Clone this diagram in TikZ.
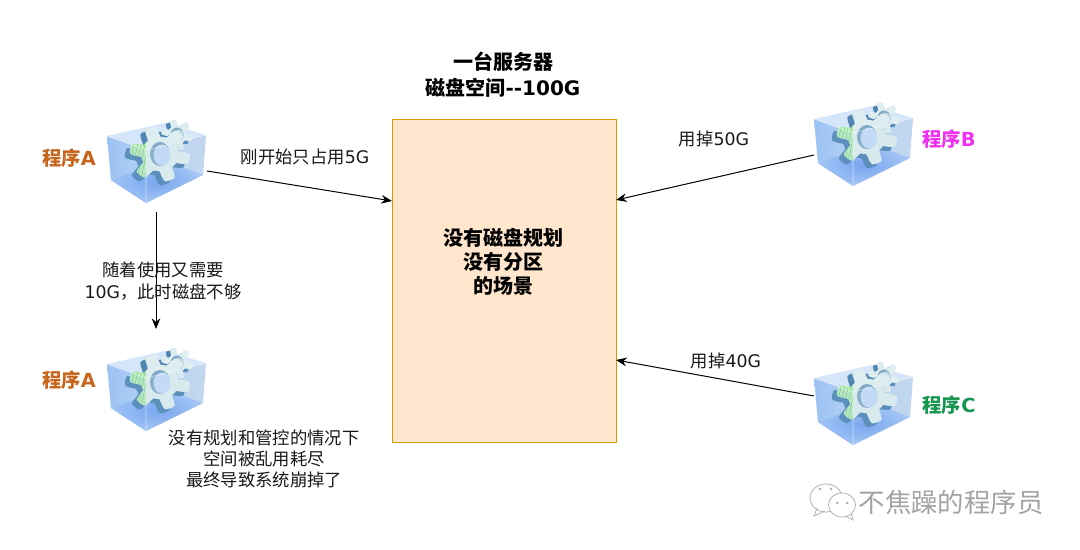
\documentclass[tikz,border=0pt]{standalone}
\usepackage{fontspec}
\setmainfont{Noto Sans CJK SC}
\newfontfamily\la{DejaVu Sans}
\usetikzlibrary{arrows.meta}
\definecolor{progA}{HTML}{C8661E}
\definecolor{progB}{HTML}{F032F0}
\definecolor{progC}{HTML}{14964F}
\definecolor{diskfill}{HTML}{FFE6CC}
\definecolor{diskline}{HTML}{D79B00}
\definecolor{wallL}{HTML}{9CC3F4}
\definecolor{wallLp}{HTML}{B9D4F6}
\definecolor{wallR}{HTML}{C2D7EF}
\definecolor{floorA}{HTML}{6E9FEF}
\definecolor{floorB}{HTML}{A3C5F6}
\definecolor{gearface}{HTML}{DDEDF0}
\definecolor{gearside}{HTML}{4F86B2}
\definecolor{gearhole}{HTML}{7FA9C4}
\definecolor{lattice}{HTML}{BDEFB8}
\definecolor{latline}{HTML}{62C866}
\newcommand{\bigrad}{(24.5+5.8*max(min(2.0*sin(6*\t+25),1),-1))}
\newcommand{\smlrad}{(12.6+3.2*max(min(2.0*sin(6*\t+10),1),-1))}
\tikzset{
  conn/.style={draw=black,line width=0.75pt,-{Stealth[length=8pt,width=6.5pt]}},
  txt/.style={font=\fontsize{13}{16}\selectfont,align=center,inner sep=0pt,text=black!90},
  box/.style={inner sep=0pt,minimum width=73.5pt,minimum height=63pt},
  prog/.style={font=\fontsize{14.5}{18}\selectfont\bfseries,inner sep=0pt},
  pics/cube/.style={code={
    % walls
    \fill[wallLp!60!white] (-40,-15)--(18,-28)--(59,-16)--(-1,-1)--cycle;
    \shade[left color=wallL,right color=wallLp] (-40,-15)--(-1,-1)--(-1,52)--(-36,29)--cycle;
    \shade[left color=wallLp,right color=wallR] (-1,-1)--(59,-16)--(56,24)--(-1,52)--cycle;
    % floor
    \shade[inner color=floorA,outer color=floorB] (-36,29)--(18,10)--(56,24)--(-1,52)--cycle;
    % small gear
    \fill[gearside] plot[smooth cycle,domain=0:356,samples=90,variable=\t]
      ({26+\smlrad*cos(\t)},{-13+\smlrad*sin(\t)});
    \fill[gearface] plot[smooth cycle,domain=0:356,samples=90,variable=\t]
      ({30+\smlrad*cos(\t)},{-16+\smlrad*sin(\t)});
    \fill[gearhole] (30,-16) ellipse (6.5 and 7.5);
    \fill[gearface!75!gearhole] (31.5,-15.5) ellipse (5 and 6);
    % big gear
    \fill[gearside] plot[smooth cycle,domain=0:356,samples=90,variable=\t]
      ({8+\bigrad*cos(\t)},{7+\bigrad*0.92*sin(\t)});
    \fill[gearface] plot[smooth cycle,domain=0:356,samples=90,variable=\t]
      ({13+\bigrad*cos(\t)},{3+\bigrad*0.92*sin(\t)});
    \begin{scope}
      \clip (-45,-40) rectangle (-1,60);
      \fill[lattice] plot[smooth cycle,domain=0:356,samples=90,variable=\t]
        ({13+\bigrad*cos(\t)},{3+\bigrad*0.92*sin(\t)});
      \begin{scope}
        \clip plot[smooth cycle,domain=0:356,samples=90,variable=\t]
          ({13+\bigrad*cos(\t)},{3+\bigrad*0.92*sin(\t)});
        \draw[latline,line width=0.3pt,rotate=-12,step=3.5] (-30,-35) grid (10,45);
      \end{scope}
    \end{scope}
    \fill[gearhole] (13,3) ellipse (10 and 12);
    \fill[wallL!60!white] (15,4) ellipse (8.5 and 10.5);
    % faint front glass
    \fill[wallL,fill opacity=.18] (-40,-15)--(-1,-1)--(-1,52)--(-36,29)--cycle;
    \fill[wallR,fill opacity=.12] (-1,-1)--(59,-16)--(56,24)--(-1,52)--cycle;
    \draw[white,opacity=.6,line width=0.4pt] (-40,-15)--(-1,-1)--(59,-16) (-1,-1)--(-1,52);
  }}
}
\begin{document}
\begin{tikzpicture}[x=0.75pt,y=-0.75pt]
\useasboundingbox (0,0) rectangle (1080,549);
\fill[white] (0,0) rectangle (1080,549);

% disk
\node[draw=diskline,fill=diskfill,line width=0.75pt,inner sep=0pt,minimum width=168pt,minimum height=241.5pt] (disk) at (504,281) {};
\node[align=center,inner sep=0pt,font=\fontsize{15}{18}\selectfont\bfseries] (disktext) at (503,262) {没有磁盘规划\\没有分区\\的场景};
\node[align=center,inner sep=0pt,font=\fontsize{15}{19.5}\selectfont\bfseries] (title) at (503,75) {一台服务器\\磁盘空间{\la --100G}};

% cubes
\pic at (147,151) {cube};
\pic at (147,379) {cube};
\pic at (854,134) {cube};
\pic at (854,393) {cube};
\node[box] (cubeA) at (156,162) {};
\node[box] (cubeAtwo) at (156,390) {};
\node[box] (cubeB) at (863,145) {};
\node[box] (cubeC) at (863,404) {};

% program labels
\node[prog,text=progA] (labA) at (69,158) {程序{\la A}};
\node[prog,text=progA] (labAtwo) at (69,380) {程序{\la A}};
\node[prog,text=progB] (labB) at (949,139) {程序{\la B}};
\node[prog,text=progC] (labC) at (949,405) {程序{\la C}};

% connectors
\coordinate (a1) at (207,171);
\coordinate (d1) at (392,201);
\coordinate (a2) at (156,212);
\coordinate (a3) at (156,329);
\coordinate (b1) at (814,155);
\coordinate (d2) at (616,200);
\coordinate (c1) at (814,396);
\coordinate (d3) at (616,360);
\draw[conn] (a1) -- (d1);
\draw[conn] (a2) -- (a3);
\draw[conn] (b1) -- (d2);
\draw[conn] (c1) -- (d3);

% edge labels
\node[txt] (t1) at (305,157) {刚开始只占用{\la 5G}};
\node[txt] (t2) at (714,139) {用掉{\la 50G}};
\node[txt] (t3) at (726,361) {用掉{\la 40G}};
\node[txt] (t4) at (163,281) {随着使用又需要\\{\la 10G}，此时磁盘不够};
\node[txt] (t5) at (264,459) {没有规划和管控的情况下\\空间被乱用耗尽\\最终导致系统崩掉了};

% watermark
\begin{scope}[draw=black!30,line width=0.6pt,fill=white]
  \draw (826,498) ellipse (16 and 14);
  \draw (817,508) -- (814,516) -- (825,511);
  \filldraw (842,505) ellipse (13.5 and 12);
  \draw (851,513) -- (853,520) -- (845,516);
  \fill[black!30] (820,489) circle (1.5) (831,489) circle (1.5) (837,503) circle (1.5) (847,503) circle (1.5);
\end{scope}
\node[inner sep=0pt,text=black!36,font=\fontsize{19.8}{22}\selectfont] (wm) at (951,502) {不焦躁的程序员};
\end{tikzpicture}
\end{document}
